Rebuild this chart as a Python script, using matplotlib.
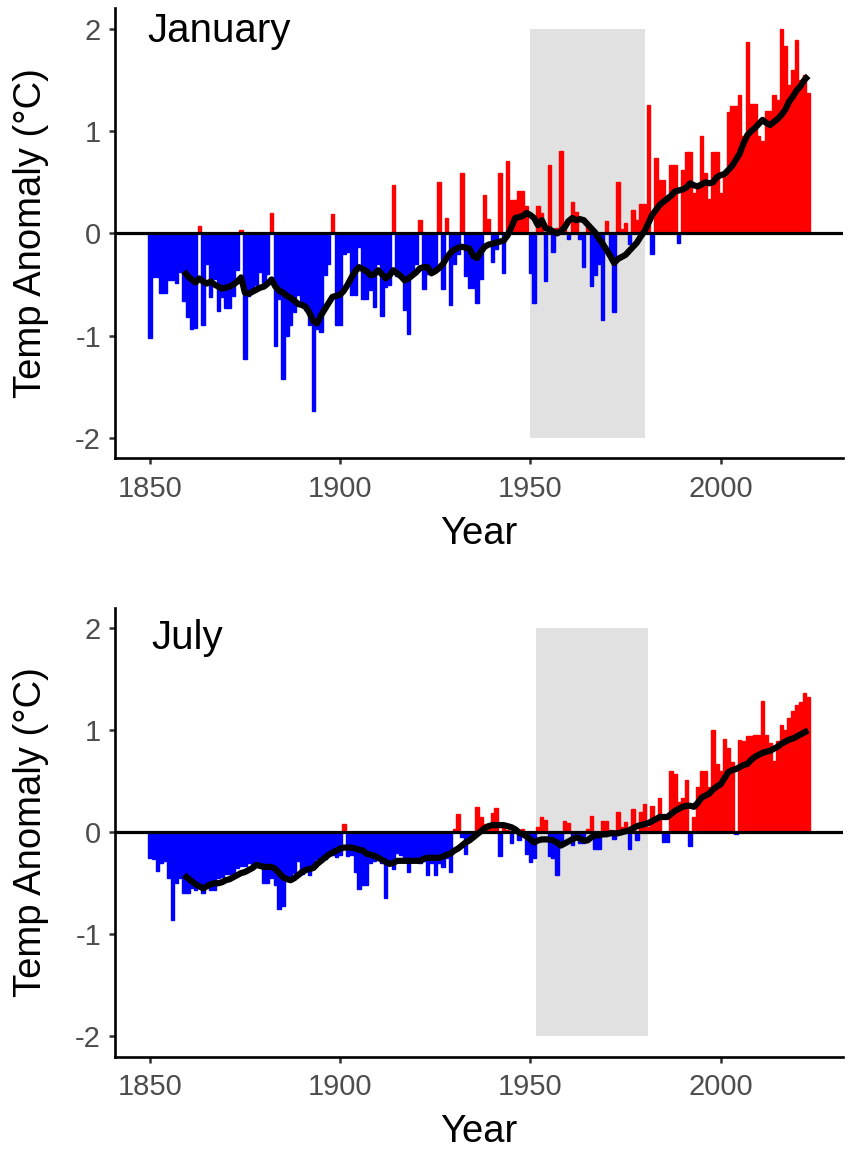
import numpy as np
import matplotlib
matplotlib.use("Agg")
import matplotlib.pyplot as plt

plt.rcParams['font.family'] = ['Liberation Sans', 'DejaVu Sans']
plt.rcParams['axes.unicode_minus'] = False

# ---- data ----
years = list(range(1850, 2024))

jan_anom = [
    -1.02, -0.43, -0.43, -0.58, -0.58, -0.46, -0.46, -0.48, -0.38, -0.66,
    -0.82, -0.93, -0.92, 0.07, -0.90, -0.30, -0.62, -0.45, -0.76, -0.62,
    -0.73, -0.73, -0.61, -0.36, 0.03, -1.23, -0.61, -0.53, -0.50, -0.38,
    -0.48, -0.40, 0.20, -1.10, -0.64, -1.42, -1.00, -0.90, -0.77, -0.60,
    -0.70, -0.75, -0.90, -1.74, -0.93, -0.96, -0.41, -0.30, 0.19, -0.90,
    -0.90, -0.20, -0.18, -0.60, -0.60, -0.13, -0.64, -0.64, -0.55, -0.72,
    -0.30, -0.81, -0.52, -0.50, 0.47, -0.42, -0.42, -0.75, -0.98, -0.40,
    -0.30, 0.13, -0.54, -0.40, -0.40, -0.35, 0.50, -0.54, 0.15, -0.70,
    -0.30, -0.20, 0.59, -0.42, -0.53, -0.53, -0.68, -0.45, 0.38, 0.14,
    -0.28, -0.15, 0.59, -0.39, 0.71, 0.33, 0.33, 0.41, 0.41, 0.27,
    -0.39, -0.68, 0.27, 0.20, -0.47, 0.67, -0.18, 0.05, 0.81, 0.05,
    -0.05, 0.31, 0.21, -0.05, -0.33, 0.10, -0.51, -0.41, -0.30, -0.85,
    0.12, -0.20, -0.77, 0.50, 0.04, 0.10, -0.10, 0.23, 0.13, 0.29,
    0.29, 1.26, -0.20, 0.74, 0.52, 0.52, 0.35, 0.67, 0.67, -0.09,
    0.62, 0.80, 0.80, 0.40, 0.45, 0.95, 0.59, 0.34, 0.80, 0.80,
    0.40, 0.55, 1.19, 1.25, 1.25, 1.35, 0.95, 1.87, 1.27, 1.27,
    0.95, 0.90, 1.20, 1.20, 1.35, 1.30, 2.00, 1.83, 1.45, 1.60,
    1.89, 1.50, 1.55, 1.37,
]

jul_anom = [
    -0.25, -0.26, -0.38, -0.30, -0.28, -0.45, -0.86, -0.50, -0.45, -0.60,
    -0.60, -0.55, -0.57, -0.55, -0.60, -0.50, -0.57, -0.57, -0.45, -0.44,
    -0.41, -0.41, -0.40, -0.35, -0.33, -0.33, -0.30, -0.31, -0.28, -0.32,
    -0.50, -0.50, -0.45, -0.52, -0.75, -0.72, -0.47, -0.45, -0.40, -0.28,
    -0.41, -0.38, -0.42, -0.35, -0.26, -0.26, -0.26, -0.18, -0.22, -0.24,
    -0.22, 0.08, -0.23, -0.22, -0.39, -0.56, -0.52, -0.52, -0.30, -0.28,
    -0.25, -0.30, -0.64, -0.30, -0.36, -0.20, -0.22, -0.25, -0.39, -0.28,
    -0.28, -0.30, -0.28, -0.42, -0.30, -0.42, -0.30, -0.34, -0.25, -0.39,
    0.03, 0.18, -0.05, -0.21, -0.05, -0.03, 0.25, 0.15, 0.08, 0.05,
    0.19, 0.24, -0.23, 0.05, 0.02, -0.11, 0.01, -0.08, 0.03, -0.21,
    -0.29, -0.25, 0.05, 0.15, 0.12, -0.23, -0.25, -0.42, -0.10, 0.11,
    0.09, -0.12, -0.05, -0.11, -0.11, 0.03, 0.16, -0.16, -0.16, 0.11,
    0.11, 0.02, -0.07, 0.20, 0.05, 0.10, -0.16, 0.23, -0.08, 0.20,
    0.28, 0.05, 0.26, 0.15, 0.34, -0.10, -0.10, 0.60, 0.57, 0.30,
    0.34, 0.51, -0.13, 0.15, 0.44, 0.60, 0.60, 0.44, 1.00, 0.67,
    0.60, 0.92, 0.83, 0.69, -0.02, 0.91, 0.90, 0.94, 0.94, 0.95,
    0.95, 1.29, 0.95, 0.88, 0.70, 0.90, 1.05, 1.00, 1.12, 1.19,
    1.25, 1.28, 1.37, 1.33,
]

# running-mean line, 1859-2023
line_years = list(range(1859, 2024))

jan_line = [
    -0.37,
    -0.42, -0.45, -0.48, -0.44, -0.47, -0.49, -0.47, -0.50, -0.52, -0.54,
    -0.53, -0.52, -0.50, -0.47, -0.43, -0.58, -0.59, -0.57, -0.55, -0.53,
    -0.52, -0.49, -0.45, -0.52, -0.56, -0.58, -0.61, -0.63, -0.66, -0.69,
    -0.70, -0.72, -0.78, -0.86, -0.88, -0.80, -0.74, -0.68, -0.62, -0.61,
    -0.60, -0.56, -0.50, -0.43, -0.37, -0.33, -0.35, -0.37, -0.41, -0.40,
    -0.36, -0.40, -0.44, -0.41, -0.36, -0.39, -0.42, -0.46, -0.44, -0.41,
    -0.38, -0.34, -0.33, -0.33, -0.39, -0.37, -0.34, -0.30, -0.24, -0.19,
    -0.16, -0.14, -0.13, -0.14, -0.15, -0.22, -0.24, -0.18, -0.13, -0.11,
    -0.10, -0.09, -0.08, -0.07, -0.02, 0.06, 0.15, 0.16, 0.17, 0.20,
    0.18, 0.15, 0.08, 0.13, 0.05, 0.04, 0.02, 0.00, 0.02, 0.06,
    0.12, 0.15, 0.13, 0.14, 0.13, 0.09, 0.05, 0.01, -0.05, -0.10,
    -0.16, -0.22, -0.29, -0.25, -0.23, -0.21, -0.17, -0.13, -0.09, -0.03,
    0.02, 0.10, 0.18, 0.23, 0.28, 0.31, 0.34, 0.37, 0.41, 0.42,
    0.43, 0.45, 0.49, 0.47, 0.46, 0.48, 0.50, 0.49, 0.50, 0.55,
    0.57, 0.58, 0.62, 0.66, 0.72, 0.78, 0.88, 0.96, 1.00, 1.03,
    1.07, 1.11, 1.08, 1.06, 1.09, 1.12, 1.16, 1.21, 1.29, 1.34,
    1.40, 1.44, 1.50, 1.54,
]

jul_line = [
    -0.42,
    -0.45, -0.48, -0.51, -0.53, -0.55, -0.53, -0.51, -0.50, -0.50, -0.49,
    -0.47, -0.46, -0.44, -0.42, -0.40, -0.39, -0.37, -0.35, -0.32, -0.33,
    -0.34, -0.34, -0.34, -0.36, -0.40, -0.44, -0.46, -0.47, -0.45, -0.42,
    -0.39, -0.37, -0.36, -0.35, -0.31, -0.28, -0.25, -0.22, -0.20, -0.18,
    -0.16, -0.15, -0.15, -0.15, -0.16, -0.17, -0.18, -0.21, -0.22, -0.23,
    -0.25, -0.27, -0.29, -0.31, -0.30, -0.28, -0.28, -0.28, -0.28, -0.28,
    -0.28, -0.28, -0.26, -0.25, -0.25, -0.25, -0.25, -0.24, -0.22, -0.21,
    -0.18, -0.16, -0.13, -0.10, -0.08, -0.05, -0.02, 0.01, 0.04, 0.06,
    0.07, 0.07, 0.07, 0.07, 0.06, 0.05, 0.03, 0.00, -0.02, -0.04,
    -0.07, -0.10, -0.08, -0.07, -0.07, -0.07, -0.08, -0.10, -0.13, -0.11,
    -0.09, -0.07, -0.05, -0.06, -0.08, -0.08, -0.05, -0.03, -0.03, -0.02,
    -0.02, -0.01, -0.01, -0.01, 0.00, 0.01, 0.02, 0.04, 0.06, 0.07,
    0.08, 0.09, 0.11, 0.13, 0.15, 0.15, 0.15, 0.18, 0.21, 0.23,
    0.25, 0.26, 0.26, 0.25, 0.29, 0.34, 0.36, 0.38, 0.42, 0.45,
    0.47, 0.53, 0.59, 0.61, 0.62, 0.64, 0.66, 0.67, 0.71, 0.74,
    0.76, 0.78, 0.79, 0.80, 0.82, 0.84, 0.87, 0.89, 0.91, 0.92,
    0.94, 0.96, 0.98, 1.00,
]

panels = [
    ("January", jan_anom, jan_line, (1950, 1980), [0.1351, 0.6017, 0.8555, 0.3910], 1849.5, 1.87),
    ("July", jul_anom, jul_line, (1951.5, 1981), [0.1351, 0.0821, 0.8555, 0.3896], 1850.5, 1.80),
]

fig = plt.figure(figsize=(8.51, 11.51), dpi=100)

for name, anom, line, shade, pos, tx, ty in panels:
    ax = fig.add_axes(pos)
    ax.axvspan(shade[0], shade[1], ymin=(-2 + 2.2) / 4.4, ymax=(2 + 2.2) / 4.4,
               color='#E1E1E1', lw=0, zorder=0)
    colors = ['#FF0000' if v > 0 else '#0000FF' for v in anom]
    # bars carry an outline in their own colour, which makes them look chunky
    ax.bar(years, anom, width=0.9, color=colors, edgecolor=colors,
           linewidth=1.0, zorder=1)
    ax.axhline(0, color='black', lw=2.3, zorder=2)
    ax.plot(line_years, line, color='black', lw=4.5, zorder=3,
            solid_capstyle='butt', solid_joinstyle='round')
    ax.text(tx, ty, name, fontsize=29, ha='left', va='baseline', zorder=4)

    ax.set_xlim(1840.85, 2032.15)
    ax.set_ylim(-2.2, 2.2)
    ax.set_xticks([1850, 1900, 1950, 2000])
    ax.set_yticks([-2, -1, 0, 1, 2])
    ax.set_yticklabels(['-2', '-1', '0', '1', '2'])
    for s in ['top', 'right']:
        ax.spines[s].set_visible(False)
    for s in ['left', 'bottom']:
        ax.spines[s].set_linewidth(1.9)
        ax.spines[s].set_color('black')
    ax.tick_params(length=4, width=1.8, color='#333333', labelcolor='#4D4D4D',
                   labelsize=21)
    ax.tick_params(axis='x', pad=8)
    ax.tick_params(axis='y', pad=6)
    ax.set_xlabel('Year', fontsize=27.5, labelpad=9)
    ax.set_ylabel('Temp Anomaly (°C)', fontsize=27.5, labelpad=19)

fig.savefig('out.png', dpi=100)
